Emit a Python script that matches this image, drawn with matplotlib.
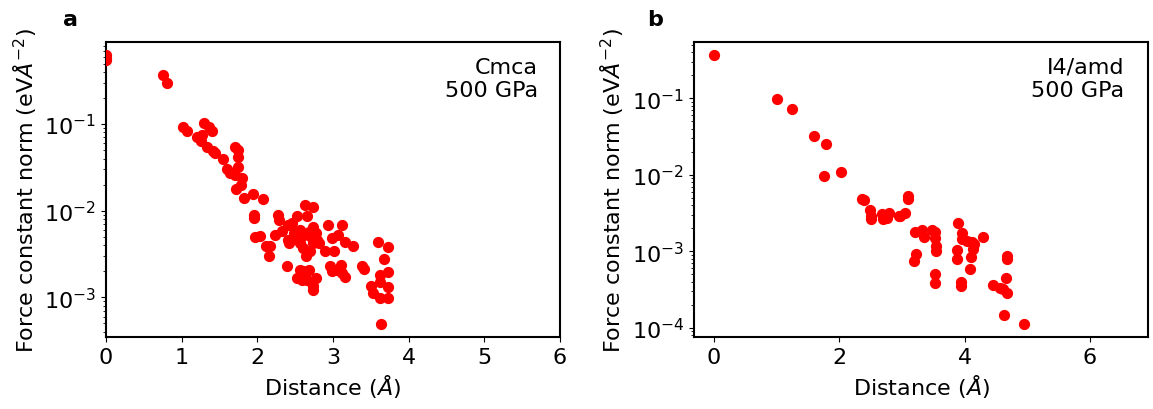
import matplotlib
matplotlib.use('Agg')
import matplotlib.pyplot as plt
import numpy as np

# panel a: Cmca, 500 GPa
dist_a = [0, 0, 0, 0.76, 0.80, 1.02, 1.07, 1.30, 1.36, 1.40,
          1.20, 1.27, 1.25, 1.34, 1.42, 1.445, 1.55, 1.70, 1.75, 1.74,
          1.60, 1.64, 1.75, 1.71, 1.80, 1.78, 1.72, 1.82, 1.94, 2.075,
          1.95, 1.96, 1.97, 2.03, 2.12, 2.17, 2.15, 2.27, 2.28, 2.24,
          2.33, 2.39, 2.41, 2.46, 2.52, 2.63, 2.735, 2.66,
          2.40, 2.414, 2.48, 2.50, 2.57, 2.59, 2.57, 2.61, 2.66, 2.64,
          2.70, 2.74, 2.77, 2.79, 2.81, 2.74, 2.70, 2.68,
          2.57, 2.61, 2.68, 2.77, 2.52, 2.66, 2.72, 2.735, 2.74, 2.59,
          2.94, 3.12, 2.99, 3.07, 2.90, 3.01, 3.16, 3.27,
          2.96, 2.99, 3.05, 3.10, 3.12, 3.16, 3.38, 3.41,
          3.60, 3.73, 3.68, 3.73, 3.62, 3.62, 3.50, 3.53, 3.62, 3.73,
          3.73, 3.63]
fc_a = [0.62, 0.58, 0.55, 0.367, 0.30, 0.0916, 0.084, 0.103, 0.092, 0.084,
        0.071, 0.075, 0.064, 0.055, 0.049, 0.046, 0.040, 0.054, 0.050, 0.042,
        0.030, 0.0275, 0.0317, 0.0258, 0.0236, 0.0198, 0.0177, 0.0139, 0.0156, 0.0136,
        0.0090, 0.0082, 0.00495, 0.0051, 0.00393, 0.00393, 0.00296, 0.0090, 0.0078, 0.00526,
        0.0059, 0.00227, 0.00686, 0.00718, 0.0087, 0.01167, 0.0110, 0.0087,
        0.00461, 0.00423, 0.00551, 0.00482, 0.00601, 0.00504, 0.00423, 0.0037, 0.00324, 0.00296,
        0.00338, 0.00656, 0.00551, 0.00461, 0.00423, 0.00423, 0.00504, 0.00574,
        0.00208, 0.0020, 0.00208, 0.00167, 0.00167, 0.0016, 0.00146, 0.00122, 0.00134, 0.0016,
        0.00686, 0.00686, 0.00482, 0.00526, 0.00338, 0.00338, 0.0044, 0.00393,
        0.00227, 0.0020, 0.00208, 0.00238, 0.0019, 0.00171, 0.00227, 0.00212,
        0.0044, 0.00385, 0.00276, 0.00194, 0.00182, 0.00152, 0.00134, 0.00112, 0.00098, 0.00131,
        0.00098, 0.000497]

# panel b: I4/amd, 500 GPa
dist_b = [0, 1.00, 1.25, 1.59, 1.78, 1.76, 2.02, 2.36, 2.40,
          2.485, 2.50, 2.50, 2.68, 2.70, 2.79, 2.76, 2.96, 2.97, 3.05,
          3.09, 3.09, 3.21, 3.32, 3.35, 3.48, 3.53, 3.53, 3.55, 3.55,
          3.23, 3.20, 3.53, 3.53, 3.90, 3.96, 3.96, 4.04, 4.12, 4.15,
          4.14, 4.11, 4.29, 3.88, 3.88, 4.09, 3.94, 3.94, 4.45, 4.57,
          4.68, 4.68, 4.66, 4.61, 4.67, 4.63, 4.95]
fc_b = [0.366, 0.099, 0.0718, 0.0321, 0.025, 0.0096, 0.0109, 0.00486, 0.00467,
        0.00352, 0.00288, 0.00261, 0.00303, 0.00261, 0.00319, 0.00275, 0.00288, 0.00288, 0.00319,
        0.00526, 0.00476, 0.00178, 0.00189, 0.00155, 0.00189, 0.00178, 0.0015, 0.00117, 0.0010,
        0.00091, 0.00074, 0.00051, 0.00038, 0.00236, 0.00171, 0.00146, 0.00136, 0.00131, 0.00123,
        0.00106, 0.00085, 0.00155, 0.00103, 0.00078, 0.00058, 0.00039, 0.00035, 0.000357, 0.000333,
        0.00086, 0.00078, 0.00045, 0.000316, 0.00028, 0.000146, 0.000113]

plt.rcParams['font.size'] = 16
plt.rcParams['mathtext.fontset'] = 'dejavusans'

fig = plt.figure(figsize=(11.53, 4.10), dpi=100)
ax1 = fig.add_axes([0.0919, 0.1756, 0.3938, 0.7195])
ax2 = fig.add_axes([0.6019, 0.1756, 0.3938, 0.7195])

ylab = r'Force constant norm (eV$\AA^{-2}$)'
xlab = r'Distance ($\AA$)'

ax1.scatter(dist_a, fc_a, s=50, color='red', zorder=3)
ax1.set_yscale('log')
ax1.set_xlim(0, 6)
ax1.set_xlabel(xlab)
ax1.set_ylabel(ylab)
ax1.text(0.951, 0.95, 'Cmca\n500 GPa', transform=ax1.transAxes,
         ha='right', va='top', multialignment='right')
fig.text(0.061, 0.95, 'a', fontweight='bold', ha='center', va='center')

ax2.scatter(dist_b, fc_b, s=50, color='red', zorder=3)
ax2.set_yscale('log')
ax2.set_xlim(-0.32, 6.93)
ax2.set_xlabel(xlab)
ax2.set_ylabel(ylab)
ax2.text(0.947, 0.95, 'I4/amd\n500 GPa', transform=ax2.transAxes,
         ha='right', va='top', multialignment='right')
fig.text(0.568, 0.95, 'b', fontweight='bold', ha='center', va='center')

for ax in (ax1, ax2):
    for sp in ax.spines.values():
        sp.set_linewidth(1.5)

fig.savefig('out.png', dpi=100)
